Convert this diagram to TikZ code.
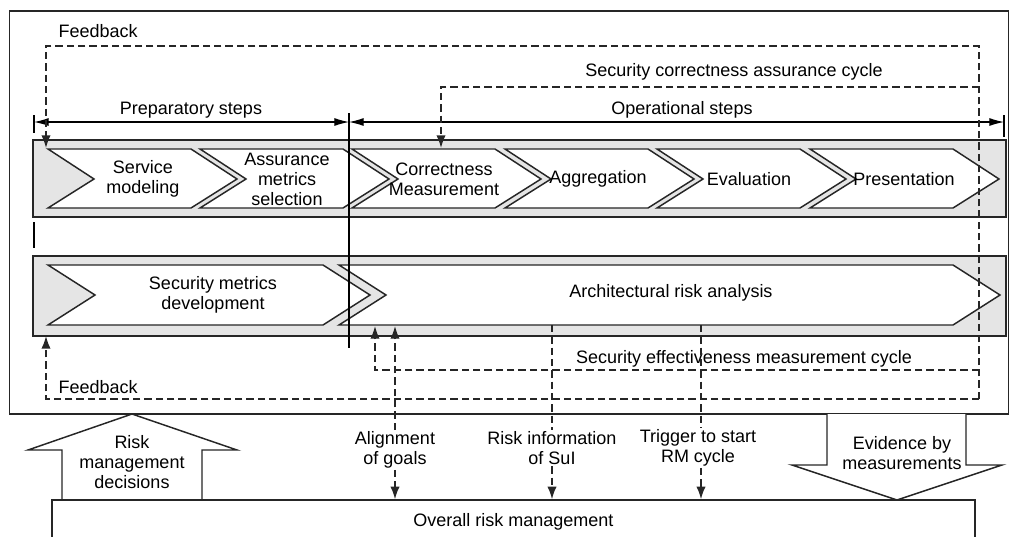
\documentclass[tikz,border=0pt]{standalone}
\usepackage{fontspec}
\setmainfont{Liberation Sans}
\usetikzlibrary{arrows.meta}
\tikzset{
  band/.style={draw=black!85, fill=black!10, line width=1.1pt},
  chev/.style={draw=black!85, fill=white, line width=1.1pt},
  lbl/.style={align=center, inner sep=1pt, font=\fontsize{13.5}{15}\selectfont},
  loopline/.style={draw=black!85, line width=1.2pt, dash pattern=on 5.5pt off 3pt},
  looparrow/.style={loopline, arrows={-Latex[length=9.5pt,width=7pt]}},
  dimline/.style={line width=0.8pt, arrows={Latex[length=11pt,width=6pt]-Latex[length=11pt,width=6pt]}},
  blockarrow/.style={draw=black!85, fill=white, line width=1.1pt}
}
\begin{document}
\begin{tikzpicture}[x=0.75pt, y=-0.75pt]
    \useasboundingbox (0,0) rectangle (1010,536);
    \clip (0,0) rectangle (1010,536);
    % frame and bands
    \draw[line width=1.1pt, draw=black!85] (9.5,11) rectangle (1008.5,414);
    \draw[band] (33,140) rectangle (1006,217);
    \draw[band] (33,256) rectangle (1006,336);
    % operational chain
    \foreach \a/\tx/\nm/\txt in {48/143/svc/{Service\\modeling}, 200/287/ams/{Assurance\\metrics\\selection}, 352/444/crm/{Correctness\\Measurement}, 505/598/agg/Aggregation, 657/749/eva/Evaluation, 810/904/pre/Presentation}
    {
        \draw[chev] (\a,149) -- ({\a+143},149) -- ({\a+189},179) -- ({\a+143},208) -- (\a,208) -- ({\a+46},179) -- cycle;
        \node[lbl] (\nm) at (\tx,179) {\txt};
    }
    % development chain
    \draw[chev] (48,265) -- (323,265) -- (370,295) -- (323,325) -- (48,325) -- (95,295) -- cycle;
    \draw[chev] (339,265) -- (953,265) -- (1000,295) -- (953,325) -- (339,325) -- (386,295) -- cycle;
    \node[lbl] (smd) at (213,295) {Security metrics\\development};
    \node[lbl] (ara) at (671,293) {Architectural risk analysis};

    % steps
    \coordinate (prepL) at (34,122);
    \coordinate (split) at (349,122);
    \coordinate (opR) at (1004,122);
    \draw[line width=0.8pt] (34,115) -- (34,133);
    \draw[line width=0.8pt] (34,222) -- (34,248);
    \draw[line width=0.8pt] (1004,115) -- (1004,137);
    \draw[line width=0.8pt] (349,113) -- (349,348);
    \draw[dimline] (prepL) -- (split);
    \draw[dimline] (split) -- (opR);
    \node[lbl] (prep) at (191,110) {Preparatory steps};
    \node[lbl] (oper) at (682,110) {Operational steps};

    % cycles
    \coordinate (loopT) at (979,46);
    \coordinate (loopB) at (979,399);
    \coordinate (fbUp) at (46,148);
    \coordinate (fbLow) at (46,336);
    \coordinate (corrR) at (979,87);
    \coordinate (corrIn) at (441,148);
    \coordinate (effR) at (979,370);
    \coordinate (effIn) at (375,326);
    \draw[looparrow] (loopB) -- (loopT) -| (fbUp);
    \draw[looparrow] (loopB) -| (fbLow);
    \draw[looparrow] (corrR) -| (corrIn);
    \draw[looparrow] (effR) -| (effIn);
    \node[lbl, anchor=west] (fbt) at (57,31) {Feedback};
    \node[lbl, anchor=west] (fbb) at (57,387) {Feedback};
    \node[lbl] (sca) at (734,72) {Security correctness assurance cycle};
    \node[lbl] (sem) at (744,359) {Security effectiveness measurement cycle};

    % risk management
    \draw[blockarrow] (132,414) -- (237,450) -- (202,450) -- (202,500) -- (62,500) -- (62,450) -- (28,450) -- cycle;
    \draw[blockarrow] (827,414) -- (827,465) -- (792,465) -- (897,500) -- (1002,465) -- (966,465) -- (966,414);
    \node[draw=black!85, line width=1.1pt, minimum width=692.25pt, minimum height=33pt, lbl] (orm) at (513.5,522) {Overall risk management};
    \node[lbl] (rmd) at (132,462) {Risk\\management\\decisions};
    \node[lbl] (ebm) at (902,453) {Evidence by\\measurements};

    \node[lbl] (aog) at (395,450) {Alignment\\of goals};
    \node[lbl] (ris) at (552,448) {Risk information\\of SuI};
    \node[lbl] (trg) at (698,448) {Trigger to start\\RM cycle};
    \coordinate (aogIn) at (395,326);
    \coordinate (risOut) at (552,325);
    \coordinate (trgOut) at (701,325);
    \draw[looparrow] (aog) -- (aogIn);
    \draw[looparrow] (aog) -- (aog |- orm.north);
    \draw[loopline] (risOut) -- (risOut |- ris.north);
    \draw[looparrow] (risOut |- ris.south) -- (risOut |- orm.north);
    \draw[loopline] (trgOut) -- (trgOut |- trg.north);
    \draw[looparrow] (trgOut |- trg.south) -- (trgOut |- orm.north);

\end{tikzpicture}
\end{document}
